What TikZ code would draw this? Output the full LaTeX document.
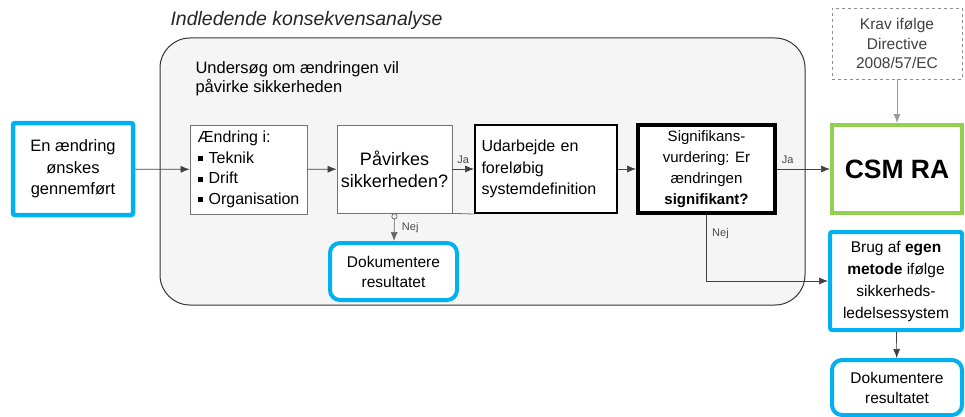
\documentclass[tikz,border=0pt]{standalone}
\usepackage{fontspec}
\setmainfont{Liberation Sans}
\usepackage{xcolor}
\usetikzlibrary{arrows.meta}
\usetikzlibrary{positioning}

\definecolor{csmblue}{HTML}{00B0F0}
\definecolor{csmgreen}{HTML}{92D050}
\definecolor{panelgray}{HTML}{F5F5F5}

\newcommand{\firkant}{\raisebox{2pt}{\rule{5pt}{5pt}}\hspace{6pt}}

\begin{document}
\begin{tikzpicture}[x=1pt,y=-1pt,
    every node/.style={font=\fontsize{16}{19.5}\selectfont},
    tynd/.style={draw=black!55,fill=white,line width=0.8pt},
    blaa/.style={draw=csmblue,fill=white,line width=4.5pt,rounded corners=2pt},
    blaarund/.style={draw=csmblue,fill=white,line width=4pt,rounded corners=10pt},
    pil/.style={-{Latex[length=9pt,width=7pt]},draw=black!75,line width=0.7pt},
    svar/.style={font=\fontsize{11}{13}\selectfont,text=black!70}]

    \useasboundingbox (0,0) rectangle (965,417);

    %===========================
    % Analyse-ramme
    %===========================

    \node (ramme) at (482.5,171.5) [draw=black!80,fill=panelgray,line width=1pt,rounded corners=30pt,minimum width=645,minimum height=267]{};
    \node (titel) at (167,20) [anchor=west,font=\fontsize{19.5}{23}\selectfont\itshape,text=black!85]{Indledende konsekvensanalyse};
    \node (undersoeg) at (192,58) [anchor=north west,align=left,font=\fontsize{16.5}{19.5}\selectfont]{Undersøg om ændringen vil\\påvirke sikkerheden};


    %===========================
    % Bokse
    %===========================
    \node (start) at (73,169) [blaa,minimum width=120,minimum height=92,align=center,font=\fontsize{16.5}{21.5}\selectfont]{En ændring\\ønskes\\gennemført};

    \node (aendring) at (248.5,169.5) [tynd,minimum width=117,minimum height=89,inner sep=2pt,align=left,font=\fontsize{16}{20.5}\selectfont]{Ændring i:\\\firkant Teknik\\\firkant Drift\\\firkant Organisation};
    \draw[pil] (start) to (aendring);

    \node (paavirk) at (394.5,169) [tynd,minimum width=115,minimum height=88,align=center,font=\fontsize{18}{22}\selectfont]{Påvirkes\\sikkerheden?};
    \draw[pil] (aendring) to (paavirk);

    \node (udarb) at (546,169) [draw=black,fill=white,line width=2pt,minimum width=142,minimum height=88,text width=129,align=left,font=\fontsize{16}{21.5}\selectfont]{Udarbejde en\\foreløbig\\systemdefinition};
    \draw[pil] (paavirk) to node[svar,above=2pt]{Ja} (udarb);
    \draw[black!55,line width=0.8pt] (paavirk.south east) -- (udarb.south west);

    \node (signif) at (706.5,169) [draw=black,fill=white,line width=4pt,minimum width=137,minimum height=88,inner sep=1pt,align=center,font=\fontsize{15}{21}\selectfont]{Signifikans-\\vurdering: Er\\ændringen\\\textbf{signifikant?}};
    \draw[pil] (udarb) to (signif);

    \node (dok1) at (393.5,271.5) [blaarund,minimum width=127,minimum height=57,align=center,font=\fontsize{15.5}{20}\selectfont]{Dokumentere\\resultatet};
    \draw[{Circle[open,length=6pt]}-{Latex[length=9pt,width=7pt]},draw=black!60,line width=0.7pt] (paavirk.south) to node[svar,right=4pt]{Nej} (dok1);

    % Hoejre side
    \node (csm) at (897,169) [draw=csmgreen,fill=white,line width=4pt,minimum width=130,minimum height=88,font=\fontsize{26.5}{30}\selectfont\bfseries]{CSM RA};
    \draw[pil] (signif) to node[svar,above=2pt,pos=0.2]{Ja} (csm);

    \node (krav) at (897,43.5) [draw=black!45,dashed,fill=white,line width=0.6pt,minimum width=130,minimum height=71,align=center,text=black!75,font=\fontsize{15.5}{19.5}\selectfont]{Krav ifølge\\Directive\\2008/57/EC};
    \draw[-{Latex[length=9pt,width=7pt]},draw=black!40,line width=0.9pt] (krav) to (csm);

    \node (brug) at (896,281) [blaa,line width=4pt,minimum width=132,minimum height=98,inner sep=1pt,align=center,font=\fontsize{15.5}{22}\selectfont]{Brug af \textbf{egen}\\\textbf{metode} ifølge\\sikkerheds-\\ledelsessystem};
    \draw[pil] (signif.south) |- node[svar,pos=0.14,right=2pt]{Nej} (brug.west);

    \node (dok2) at (897,387.5) [blaarund,minimum width=130,minimum height=55,align=center,font=\fontsize{15.5}{20}\selectfont]{Dokumentere\\resultatet};
    \draw[pil] (brug) to (dok2);
\end{tikzpicture}
\end{document}
